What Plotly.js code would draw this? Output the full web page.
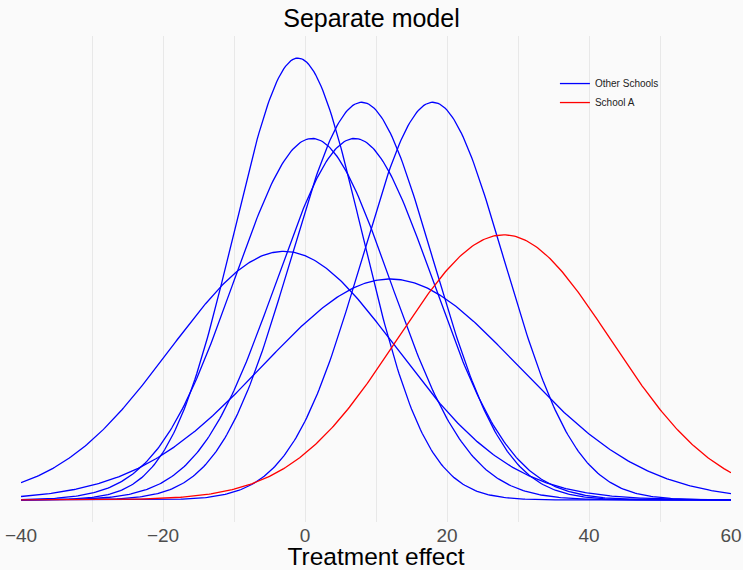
<!DOCTYPE html>
<html>
<head>
<meta charset="utf-8">
<script src="https://cdn.plot.ly/plotly-3.0.1.min.js"></script>
<style>html,body{margin:0;padding:0;background:#fafafa;}#chart{width:743px;height:570px;}</style>
</head>
<body>
<div id="chart"></div>
<script>
// Eight schools, separate model: estimated effect (mean) and standard error (sd)
const schools = ["A", "B", "C", "D", "E", "F", "G", "H"];
const means = [28, 8, -3, 7, -1, 1, 18, 12];
const sds = [15, 10, 16, 11, 9, 11, 10, 18];
const xMin = -40, xMax = 60, xStep = 0.25;

function dnorm(x, m, s) {
  return Math.exp(-0.5 * ((x - m) / s) ** 2) / (s * Math.sqrt(2 * Math.PI));
}
const xs = [];
for (let x = xMin; x <= xMax + 1e-9; x += xStep) xs.push(x);

const traces = [];
let first = true;
for (let i = 1; i < schools.length; i++) {
  traces.push({
    x: xs, y: xs.map(v => dnorm(v, means[i], sds[i])),
    type: "scatter", mode: "lines",
    line: {color: "#0000ff", width: 1.3},
    name: "Other Schools", legendgroup: "other", showlegend: first,
    hoverinfo: "skip"
  });
  first = false;
}
traces.push({
  x: xs, y: xs.map(v => dnorm(v, means[0], sds[0])),
  type: "scatter", mode: "lines",
  line: {color: "#ff0000", width: 1.3},
  name: "School A", legendgroup: "a", hoverinfo: "skip"
});

const ymax = Math.max(...traces.map(t => Math.max(...t.y)));
const layout = {
  width: 743, height: 570,
  paper_bgcolor: "#fafafa", plot_bgcolor: "#fafafa",
  margin: {l: 21, r: 12, t: 36, b: 48},
  font: {family: "Liberation Sans, Arial, sans-serif"},
  title: {text: "Separate model", font: {size: 25, color: "#000"}, x: 0.5, xanchor: "center", y: 0.968, yanchor: "middle"},
  showlegend: true,
  legend: {x: 0.752, y: 0.932, xanchor: "left", yanchor: "top", bgcolor: "rgba(0,0,0,0)",
           font: {size: 10, color: "#222"}, traceorder: "normal", tracegroupgap: 2, itemwidth: 30},
  xaxis: {
    range: [xMin, xMax], dtick: 20, tick0: 0, zeroline: false,
    showgrid: true, gridcolor: "#e8e8e8", gridwidth: 1,
    minor: {dtick: 10, showgrid: true, gridcolor: "#e8e8e8", gridwidth: 1},
    ticks: "", showline: false,
    tickfont: {size: 19, color: "#4d4d4d"},
    title: {text: "Treatment effect", font: {size: 24.5, color: "#000"}, standoff: 7}
  },
  yaxis: {
    range: [-0.05 * ymax, 1.05 * ymax], showgrid: false, zeroline: false,
    showticklabels: false, ticks: "", showline: false
  }
};
Plotly.newPlot("chart", traces, layout, {displayModeBar: false, staticPlot: true});
</script>
</body>
</html>
